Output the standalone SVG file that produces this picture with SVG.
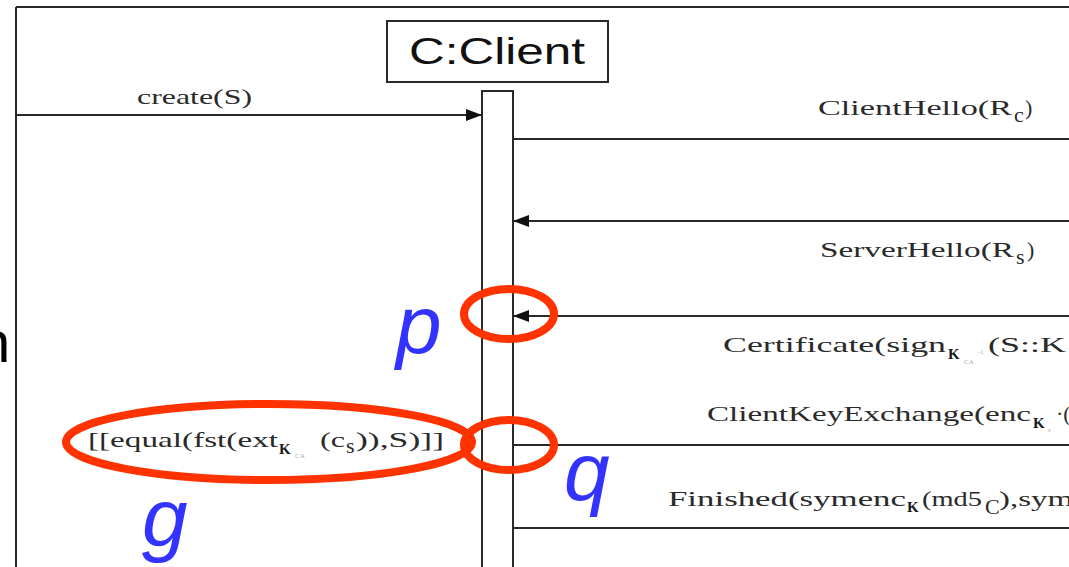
<svg xmlns="http://www.w3.org/2000/svg" width="1069" height="567" viewBox="0 0 1069 567">
<style>
.ln{stroke:#2a2a2a;stroke-width:2;fill:none}
.sf{font-family:"Liberation Serif","Times New Roman",serif;fill:#2a2a2a;font-size:22px}
.sb{font-family:"Liberation Serif","Times New Roman",serif;fill:#1a1a1a;font-size:15px;font-weight:bold}
.tiny{font-family:"Liberation Serif","Times New Roman",serif;fill:#aaaaaa;font-size:7px}
.red{fill:none;stroke:#ff3300;stroke-width:8}
.blue{font-family:"Liberation Sans",Arial,sans-serif;font-style:italic;fill:#3333ff;font-size:82px}
</style>
<defs>
<marker id="ah" markerUnits="userSpaceOnUse" markerWidth="16" markerHeight="12" refX="16" refY="6" orient="auto">
<path d="M0,0 L16,6 L0,12 z" fill="#111"/>
</marker>
</defs>
<rect width="1069" height="567" fill="#ffffff"/>
<g id="frame">
<path class="ln" d="M16,7 H1069 M16,7 V567"/>
</g>
<text x="-22" y="362" font-family="Liberation Sans,Arial,sans-serif" font-size="58" fill="#000">n</text>
<g id="client">
<rect x="387" y="21" width="221" height="61" fill="#fff" stroke="#2a2a2a" stroke-width="2"/>
<text x="409" y="64" font-family="Liberation Sans,Arial,sans-serif" font-size="36" fill="#111" textLength="176" lengthAdjust="spacingAndGlyphs">C:Client</text>
<rect x="482" y="91" width="31" height="490" fill="#fff" stroke="#2a2a2a" stroke-width="2"/>
</g>
<g id="connectors">
<line class="ln" x1="16" y1="115" x2="482" y2="115" marker-end="url(#ah)"/>
<line class="ln" x1="513" y1="139" x2="1069" y2="139"/>
<line class="ln" x1="1069" y1="221" x2="513" y2="221" marker-end="url(#ah)"/>
<line class="ln" x1="1069" y1="316" x2="513" y2="316" marker-end="url(#ah)"/>
<line class="ln" x1="513" y1="445" x2="1069" y2="445"/>
<line class="ln" x1="513" y1="528" x2="1069" y2="528"/>
</g>
<g id="labels">
<text class="sf" x="137" y="104" textLength="115" lengthAdjust="spacingAndGlyphs">create(S)</text>
<text class="sf" x="818" y="115" textLength="194" lengthAdjust="spacingAndGlyphs">ClientHello(R</text>
<text class="sf" x="1014" y="122" font-size="15">c</text>
<text class="sf" x="1025" y="115">)</text>
<text class="sf" x="820" y="257" textLength="194" lengthAdjust="spacingAndGlyphs">ServerHello(R</text>
<text class="sf" x="1016" y="264" font-size="15">s</text>
<text class="sf" x="1027" y="257">)</text>
<text class="sf" x="723" y="352" textLength="223" lengthAdjust="spacingAndGlyphs">Certificate(sign</text>
<text class="sb" x="948" y="359">K</text>
<text class="tiny" x="964" y="364">CA</text>
<text class="tiny" x="978" y="354">-1</text>
<text class="sf" x="988" y="352" textLength="78" lengthAdjust="spacingAndGlyphs">(S::K</text>
<text class="sf" x="707" y="421" textLength="324" lengthAdjust="spacingAndGlyphs">ClientKeyExchange(enc</text>
<text class="sb" x="1033" y="428">K</text>
<text class="tiny" x="1048" y="432">s</text>
<text class="sf" x="1056" y="421">·(</text>
<text class="sf" x="668" y="506" textLength="238" lengthAdjust="spacingAndGlyphs">Finished(symenc</text>
<text class="sb" x="907" y="512">K</text>
<text class="sf" x="922" y="506" textLength="60" lengthAdjust="spacingAndGlyphs">(md5</text>
<text class="sf" x="985" y="514" font-size="12">C</text>
<text class="sf" x="999" y="506" textLength="74" lengthAdjust="spacingAndGlyphs">),sym</text>
<text class="sf" x="88" y="447" textLength="190" lengthAdjust="spacingAndGlyphs">[[equal(fst(ext</text>
<text class="sb" x="279" y="454">K</text>
<text class="tiny" x="295" y="458">CA</text>
<text class="sf" x="320" y="447" textLength="25" lengthAdjust="spacingAndGlyphs">(c</text>
<text class="sf" x="346" y="453" font-size="14">s</text>
<text class="sf" x="356" y="447" textLength="88" lengthAdjust="spacingAndGlyphs">)),S)]]</text>
</g>
<g id="annotations">
<ellipse class="red" cx="509" cy="314" rx="45" ry="25"/>
<ellipse class="red" cx="509" cy="445" rx="45" ry="25"/>
<ellipse class="red" cx="269" cy="442" rx="203" ry="38"/>
<text class="blue" x="396" y="353">p</text>
<text class="blue" x="564" y="500">q</text>
<text class="blue" x="142" y="546">g</text>
</g>
</svg>
